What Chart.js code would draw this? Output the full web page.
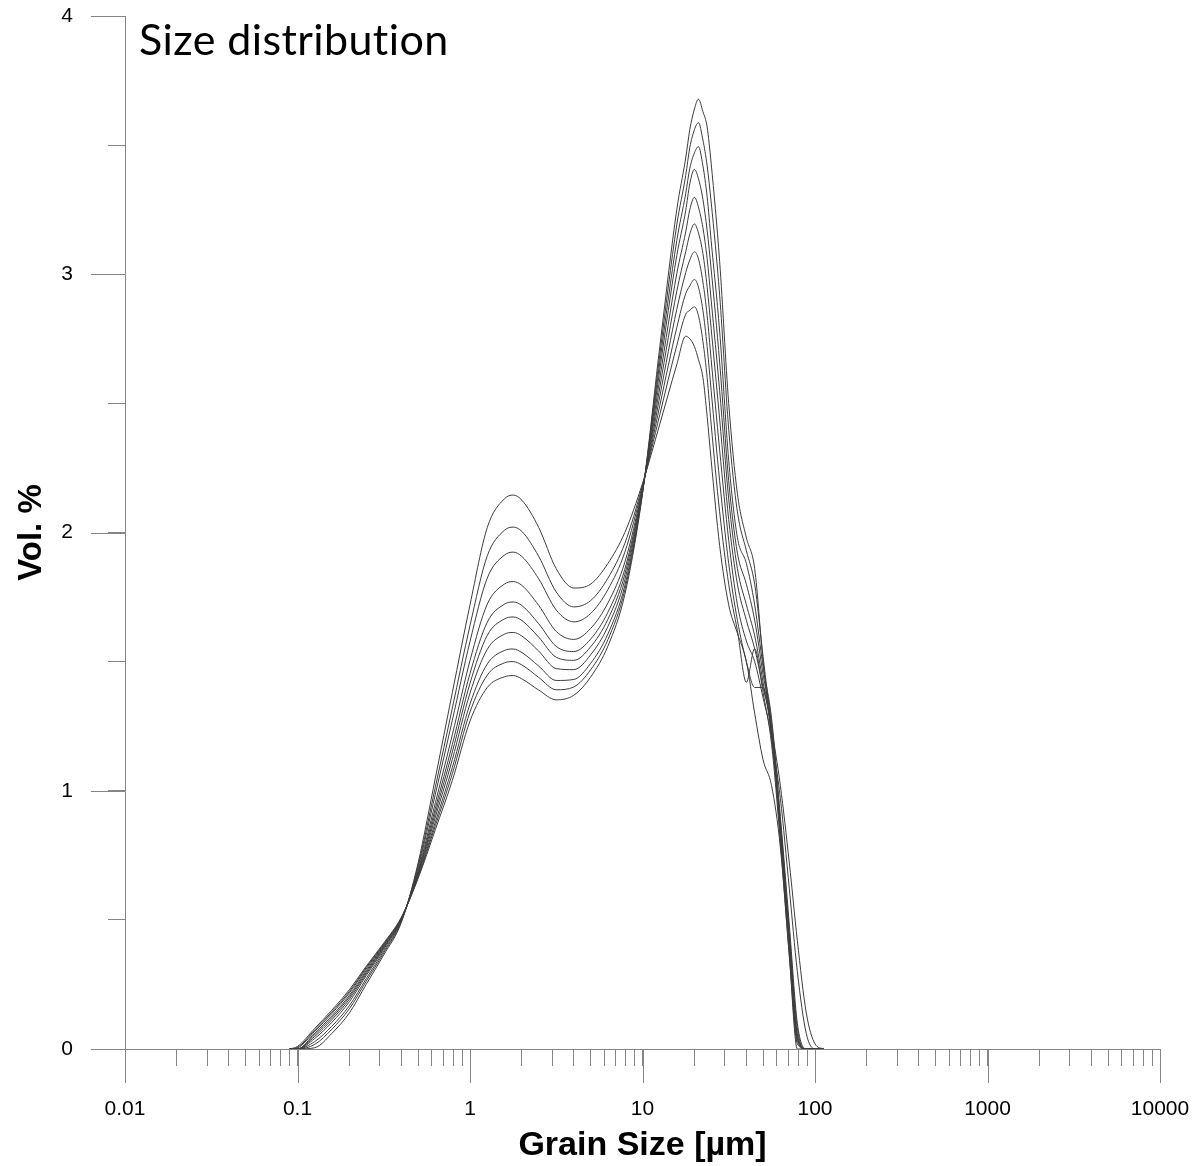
<!DOCTYPE html>
<html>
<head>
<meta charset="utf-8">
<script src="https://cdn.jsdelivr.net/npm/chart.js@4.4.1/dist/chart.umd.min.js"></script>
<style>
    html, body { margin: 0; padding: 0; background: #fff; }
</style>
</head>
<body>
<canvas id="chart" width="1199" height="1166"></canvas>
<script>
// Grain size classes (µm)
const grainSizes = [0.09, 0.1, 0.126, 0.158, 0.2, 0.25, 0.316, 0.4, 0.5, 0.63,
    0.79, 1.0, 1.26, 1.58, 1.78, 2.0, 2.5, 3.16, 4.0, 5.0, 6.3,
    7.9, 10, 12.6, 15.8, 17.8, 18.8, 20, 21.1, 22.4, 23.7,
    25, 28, 31.6, 35.5, 40, 44.7, 50, 56, 63, 71,
    79, 89, 100, 112];

// Vol. % for each sample
const vol01 = [0, 0, 0.005, 0.06, 0.14, 0.25, 0.364, 0.49, 0.72, 1.05,
    1.38, 1.72, 2.02, 2.13, 2.145, 2.125, 2.02, 1.86, 1.785, 1.80, 1.88,
    2.00, 2.19, 2.42, 2.65, 2.76, 2.75, 2.72, 2.67, 2.60, 2.45,
    2.28, 1.95, 1.72, 1.61, 1.50, 1.30, 1.12, 1.02, 0.78, 0.36,
    0.02, 0, 0, 0];
const vol02 = [0, 0, 0.018, 0.076, 0.156, 0.262, 0.372, 0.494, 0.709, 1.015,
    1.32, 1.64, 1.91, 2.008, 2.021, 2.004, 1.908, 1.77, 1.712, 1.736, 1.823,
    1.958, 2.183, 2.457, 2.724, 2.845, 2.86, 2.874, 2.84, 2.74, 2.60,
    2.42, 2.08, 1.80, 1.62, 1.42, 1.55, 1.38, 1.18, 0.80, 0.36,
    0, 0, 0, 0];
const vol03 = [0, 0, 0.029, 0.088, 0.168, 0.272, 0.379, 0.496, 0.701, 0.987,
    1.273, 1.578, 1.824, 1.912, 1.924, 1.907, 1.821, 1.70, 1.654, 1.686, 1.779,
    1.924, 2.177, 2.492, 2.793, 2.925, 2.955, 2.98, 2.95, 2.86, 2.72,
    2.55, 2.20, 1.88, 1.66, 1.50, 1.40, 1.40, 1.22, 0.84, 0.40,
    0.03, 0, 0, 0];
const vol04 = [0, 0, 0.041, 0.103, 0.183, 0.284, 0.386, 0.50, 0.691, 0.954,
    1.217, 1.504, 1.723, 1.80, 1.81, 1.795, 1.718, 1.617, 1.586, 1.628, 1.727,
    1.885, 2.171, 2.527, 2.864, 3.006, 3.055, 3.087, 3.06, 2.97, 2.84,
    2.67, 2.32, 1.97, 1.72, 1.58, 1.50, 1.36, 1.20, 0.86, 0.42,
    0.05, 0, 0, 0];
const vol05 = [0, 0, 0.049, 0.113, 0.193, 0.291, 0.391, 0.502, 0.684, 0.932,
    1.179, 1.454, 1.653, 1.722, 1.731, 1.717, 1.647, 1.559, 1.539, 1.587, 1.691,
    1.858, 2.166, 2.562, 2.934, 3.087, 3.155, 3.195, 3.16, 3.08, 2.95,
    2.79, 2.44, 2.05, 1.80, 1.66, 1.55, 1.40, 1.24, 0.82, 0.40,
    0.04, 0, 0, 0];
const vol06 = [0, 0, 0.056, 0.121, 0.201, 0.297, 0.395, 0.503, 0.68, 0.915,
    1.15, 1.416, 1.602, 1.665, 1.673, 1.659, 1.595, 1.517, 1.505, 1.557, 1.664,
    1.838, 2.163, 2.596, 3.002, 3.164, 3.25, 3.298, 3.26, 3.18, 3.06,
    2.90, 2.55, 2.13, 1.86, 1.72, 1.60, 1.42, 1.22, 0.88, 0.45,
    0.08, 0, 0, 0];
const vol07 = [0, 0, 0.062, 0.128, 0.208, 0.303, 0.399, 0.505, 0.674, 0.898,
    1.121, 1.378, 1.548, 1.606, 1.613, 1.599, 1.541, 1.473, 1.469, 1.526, 1.636,
    1.817, 2.16, 2.631, 3.072, 3.246, 3.35, 3.406, 3.37, 3.29, 3.17,
    3.02, 2.66, 2.20, 1.92, 1.80, 1.66, 1.45, 1.26, 0.85, 0.43,
    0.06, 0, 0, 0];
const vol08 = [0, 0.004, 0.069, 0.137, 0.217, 0.31, 0.403, 0.507, 0.669, 0.879,
    1.09, 1.336, 1.491, 1.543, 1.549, 1.535, 1.483, 1.427, 1.431, 1.493, 1.607,
    1.795, 2.156, 2.66, 3.13, 3.312, 3.41, 3.47, 3.494, 3.42, 3.30,
    3.13, 2.78, 2.28, 1.98, 1.88, 1.72, 1.48, 1.28, 0.90, 0.48,
    0.10, 0, 0, 0];
const vol09 = [0, 0.006, 0.074, 0.143, 0.223, 0.315, 0.406, 0.508, 0.665, 0.865,
    1.066, 1.305, 1.448, 1.495, 1.50, 1.487, 1.439, 1.391, 1.402, 1.468, 1.585,
    1.778, 2.153, 2.69, 3.191, 3.382, 3.49, 3.56, 3.587, 3.52, 3.42,
    3.28, 2.92, 2.40, 2.08, 1.93, 1.80, 1.52, 1.25, 1.02, 0.72,
    0.42, 0.14, 0.02, 0];
const vol10 = [0, 0.01, 0.08, 0.15, 0.23, 0.32, 0.41, 0.51, 0.66, 0.85,
    1.04, 1.27, 1.40, 1.441, 1.446, 1.433, 1.39, 1.352, 1.37, 1.44, 1.56,
    1.76, 2.15, 2.72, 3.25, 3.45, 3.56, 3.64, 3.678, 3.63, 3.57,
    3.43, 3.05, 2.50, 2.15, 1.98, 1.86, 1.50, 1.22, 0.97, 0.62,
    0.30, 0.06, 0, 0];

const samples = [vol01, vol02, vol03, vol04, vol05, vol06, vol07, vol08, vol09, vol10];

// Axis ticks
const xMajorTicks = [0.01, 0.1, 1, 10, 100, 1000, 10000];
const xTickLabels = ['0.01', '0.1', '1', '10', '100', '1000', '10000'];
const yMajorTicks = [0, 1, 2, 3, 4];
const yMinorTicks = [0.5, 1.5, 2.5, 3.5];

const AXIS_COLOR = '#858585';
const LINE_COLOR = '#3c3c3c';
const MINOR_LEN = 17;
const MAJOR_LEN = 34;

// minor ticks 2..9 in every decade
const xAllTicks = [];
xMajorTicks.forEach((d, i) => {
    xAllTicks.push(d);
    if (i < xMajorTicks.length - 1) {
        for (let m = 2; m <= 9; m++) xAllTicks.push(+(d * m).toPrecision(3));
    }
});
const yAllTicks = yMajorTicks.concat(yMinorTicks).sort((a, b) => a - b);

// no extra room for the outer tick labels, the layout padding handles it
function fixBox(scale, size) {
    if (scale.isHorizontal()) scale.height = size; else scale.width = size;
    scale.paddingTop = 0;
    scale.paddingBottom = 0;
    scale.paddingLeft = 0;
    scale.paddingRight = 0;
}

// long major ticks + title text inside the plot
const majorTicks = {
    id: 'majorTicks',
    afterDraw(chart) {
        const { ctx, chartArea, scales: { x, y } } = chart;
        ctx.save();
        ctx.strokeStyle = AXIS_COLOR;
        ctx.lineWidth = 1;
        ctx.beginPath();
        xMajorTicks.forEach(v => {
            const px = Math.round(x.getPixelForValue(v)) + 0.5;
            ctx.moveTo(px, chartArea.bottom);
            ctx.lineTo(px, chartArea.bottom + MAJOR_LEN);
        });
        yMajorTicks.forEach(v => {
            const py = Math.round(y.getPixelForValue(v)) + 0.5;
            ctx.moveTo(chartArea.left - MAJOR_LEN, py);
            ctx.lineTo(chartArea.left, py);
        });
        ctx.stroke();

        // Заголовок (letterSpacing switches off the Lato "ti" ligature)
        const text = 'Size distribution';
        ctx.letterSpacing = '0.4px';
        ctx.font = '100px Lato';
        const size = 100 * 306 / ctx.measureText(text).width;
        ctx.font = size.toFixed(1) + 'px Lato';
        ctx.fillStyle = '#000';
        ctx.textBaseline = 'alphabetic';
        ctx.textAlign = 'left';
        ctx.fillText(text, chartArea.left + 14, 55);
        ctx.restore();
    }
};

const datasets = samples.map((vals, i) => ({
    label: 'Sample ' + (i + 1),
    data: grainSizes.map((g, j) => ({ x: g, y: vals[j] })),
    borderColor: LINE_COLOR,
    borderWidth: 1,
    pointRadius: 0,
    fill: false,
    cubicInterpolationMode: 'monotone'
}));

new Chart(document.getElementById('chart'), {
    type: 'line',
    data: { datasets },
    plugins: [majorTicks],
    options: {
        responsive: false,
        animation: false,
        layout: { padding: { top: 16, right: 39, left: 0, bottom: 0 } },
        plugins: { legend: { display: false }, tooltip: { enabled: false } },
        scales: {
            x: {
                type: 'logarithmic',
                min: 0.01,
                max: 10000,
                afterBuildTicks: scale => { scale.ticks = xAllTicks.map(v => ({ value: v })); },
                afterFit: scale => fixBox(scale, 117),
                border: { display: true, color: AXIS_COLOR, width: 1 },
                grid: { display: true, drawOnChartArea: false, drawTicks: true, tickLength: MINOR_LEN, color: AXIS_COLOR },
                ticks: {
                    autoSkip: false,
                    maxRotation: 0,
                    padding: 31,
                    color: '#000',
                    font: { family: 'Liberation Sans', size: 21 },
                    callback: value => {
                        const k = xMajorTicks.indexOf(value);
                        return k >= 0 ? xTickLabels[k] : '';
                    }
                },
                title: {
                    display: true,
                    text: 'Grain Size [µm]',
                    color: '#000',
                    font: { family: 'Liberation Sans', size: 34, weight: 'bold' },
                    padding: { top: 0, bottom: 0 }
                }
            },
            y: {
                min: 0,
                max: 4,
                afterBuildTicks: scale => { scale.ticks = yAllTicks.map(v => ({ value: v })); },
                afterFit: scale => fixBox(scale, 125),
                border: { display: true, color: AXIS_COLOR, width: 1 },
                grid: { display: true, drawOnChartArea: false, drawTicks: true, tickLength: MINOR_LEN, color: AXIS_COLOR },
                ticks: {
                    autoSkip: false,
                    padding: 35,
                    color: '#000',
                    font: { family: 'Liberation Sans', size: 21 },
                    callback: value => (yMajorTicks.includes(value) ? String(value) : '')
                },
                title: {
                    display: true,
                    text: 'Vol. %',
                    color: '#000',
                    font: { family: 'Liberation Sans', size: 33, weight: 'bold' },
                    padding: { top: 12, bottom: 0 }
                }
            }
        }
    }
});
</script>
</body>
</html>
